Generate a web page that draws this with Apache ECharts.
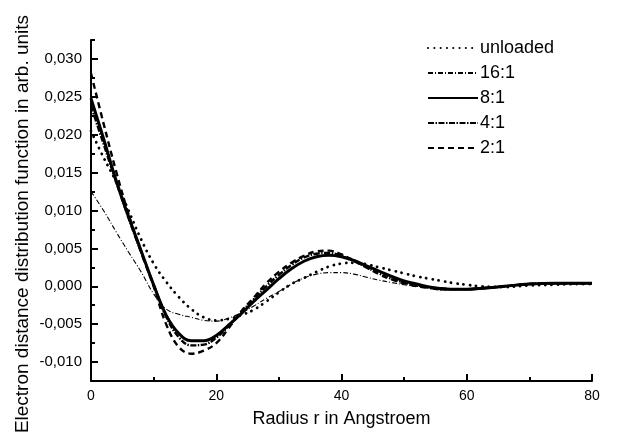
<!DOCTYPE html>
<html>
<head>
<meta charset="utf-8">
<script src="https://cdn.jsdelivr.net/npm/echarts@6/dist/echarts.min.js"></script>
<style>html,body{margin:0;padding:0;background:#fff}#c{width:627px;height:433px}</style>
</head>
<body>
<div id="c"></div>
<script>
const radius = [0,2,4,6,8,10,12,14,16,18,20,22,24,26,28,30,32,34,36,38,40,42,44,46,48,50,52,54,56,58,60,62,66,70,74,78,80];
const unloaded = [0.0205,0.0170,0.0138,0.0100,0.0062,0.0030,0.0006,-0.0014,-0.0030,-0.0041,-0.0045,-0.0043,-0.0038,-0.0031,-0.0020,-0.0008,0.0003,0.0011,0.0019,0.0026,0.0030,0.0031,0.0029,0.0025,0.0021,0.0017,0.0013,0.0010,0.0007,0.0004,0.0002,0.0000,-0.0001,0.0001,0.0002,0.0003,0.0003];
const r16 = [0.0125,0.0100,0.0072,0.0045,0.0019,-0.0010,-0.0030,-0.0037,-0.0041,-0.0045,-0.0046,-0.0042,-0.0035,-0.0026,-0.0016,-0.0007,0.0003,0.0011,0.0016,0.0018,0.0018,0.0016,0.0012,0.0008,0.0005,0.0002,0.0000,-0.0001,-0.0002,-0.0003,-0.0003,-0.0002,0.0000,0.0003,0.0004,0.0004,0.0004];
const r8 = [0.0248,0.0195,0.0140,0.0092,0.0047,0.0002,-0.0038,-0.0062,-0.0072,-0.0072,-0.0065,-0.0051,-0.0036,-0.0020,-0.0005,0.0010,0.0023,0.0033,0.0039,0.0041,0.0039,0.0034,0.0027,0.0020,0.0013,0.0007,0.0003,-0.0001,-0.0003,-0.0004,-0.0004,-0.0003,0.0000,0.0003,0.0004,0.0004,0.0004];
const r4 = [0.0238,0.0188,0.0138,0.0090,0.0045,0.0002,-0.0040,-0.0067,-0.0078,-0.0077,-0.0068,-0.0052,-0.0034,-0.0017,0.0000,0.0015,0.0028,0.0038,0.0043,0.0044,0.0040,0.0033,0.0025,0.0017,0.0010,0.0005,0.0001,-0.0002,-0.0004,-0.0004,-0.0004,-0.0003,0.0000,0.0003,0.0004,0.0004,0.0004];
const r2 = [0.0281,0.0215,0.0152,0.0095,0.0045,0.0000,-0.0050,-0.0080,-0.0089,-0.0085,-0.0075,-0.0055,-0.0033,-0.0015,0.0004,0.0019,0.0031,0.0040,0.0046,0.0047,0.0042,0.0034,0.0025,0.0016,0.0009,0.0004,0.0000,-0.0002,-0.0004,-0.0004,-0.0004,-0.0003,0.0000,0.0003,0.0004,0.0004,0.0004];
const seriesNames = ['unloaded','16:1','8:1','4:1','2:1'];
const yMajorTicks = [-0.010,-0.005,0.000,0.005,0.010,0.015,0.020,0.025,0.030];
const yMinorTicks = [-0.0075,-0.0025,0.0025,0.0075,0.0125,0.0175,0.0225,0.0275,0.0325];
const xTitle = 'Radius r in Angstroem';
const yTitle = 'Electron distance distribution function in arb. units';

const FONT = 'Liberation Sans, Arial, Helvetica, sans-serif';
const pair = arr => radius.map((r,i)=>[r,arr[i]]);
const styles = [
  {width:2.8, type:[0.1,6.2], cap:'round'},
  {width:1.1, type:[5,2,1,2]},
  {width:3, type:'solid'},
  {width:2.4, type:[6,1.5,1.5,1.5]},
  {width:2.4, type:[6,4]}
];
const datasets = [unloaded, r16, r8, r4, r2];

const chart = echarts.init(document.getElementById('c'), null, {renderer:'canvas'});
const yAxisCommon = {
  type:'value', min:-0.0125, max:0.0325, position:'left', offset:0,
  splitLine:{show:false}
};
chart.setOption({
  animation:false,
  backgroundColor:'#fff',
  grid:{left:91, right:35, top:40, bottom:50},
  legend:{
    orient:'vertical', left:422, top:34, itemWidth:50, itemHeight:14, itemGap:7,
    textStyle:{fontFamily:FONT, fontSize:18, color:'#000', padding:[0,0,0,-3]},
    itemStyle:{opacity:0, borderWidth:0},
    data:seriesNames
  },
  xAxis:{
    type:'value', min:0, max:80, interval:20,
    name:xTitle, nameLocation:'middle', nameGap:29,
    nameTextStyle:{fontFamily:FONT, fontSize:18, color:'#000'},
    axisLine:{onZero:false, lineStyle:{color:'#000', width:2}},
    axisTick:{inside:true, length:7, lineStyle:{color:'#000', width:2}},
    minorTick:{show:true, splitNumber:2, length:4, lineStyle:{color:'#000', width:2}},
    axisLabel:{fontFamily:FONT, fontSize:14, color:'#000', margin:8},
    splitLine:{show:false}
  },
  yAxis:[
    Object.assign({}, yAxisCommon, {
      axisLine:{onZero:false, lineStyle:{color:'#000', width:2}},
      axisTick:{inside:true, length:7, customValues:yMajorTicks, lineStyle:{color:'#000', width:2}},
      axisLabel:{fontFamily:FONT, fontSize:15, color:'#000', margin:9, customValues:yMajorTicks,
        formatter:v=>v.toFixed(3).replace('.',',')}
    }),
    Object.assign({}, yAxisCommon, {
      axisLine:{show:false},
      axisTick:{inside:true, length:4, customValues:yMinorTicks, lineStyle:{color:'#000', width:2}},
      axisLabel:{show:false}
    })
  ],
  graphic:[{
    type:'text', x:23, y:224, rotation:Math.PI/2,
    style:{text:yTitle, font:'19px ' + FONT, fill:'#000', textAlign:'center', textVerticalAlign:'middle'}
  }],
  series: datasets.map((d,i)=>({
    name:seriesNames[i], type:'line', data:pair(d), yAxisIndex:0,
    smooth:0.4, showSymbol:false, symbol:'none',
    lineStyle:Object.assign({color:'#000'}, styles[i]),
    itemStyle:{color:'#000'}
  }))
});
</script>
</body>
</html>
